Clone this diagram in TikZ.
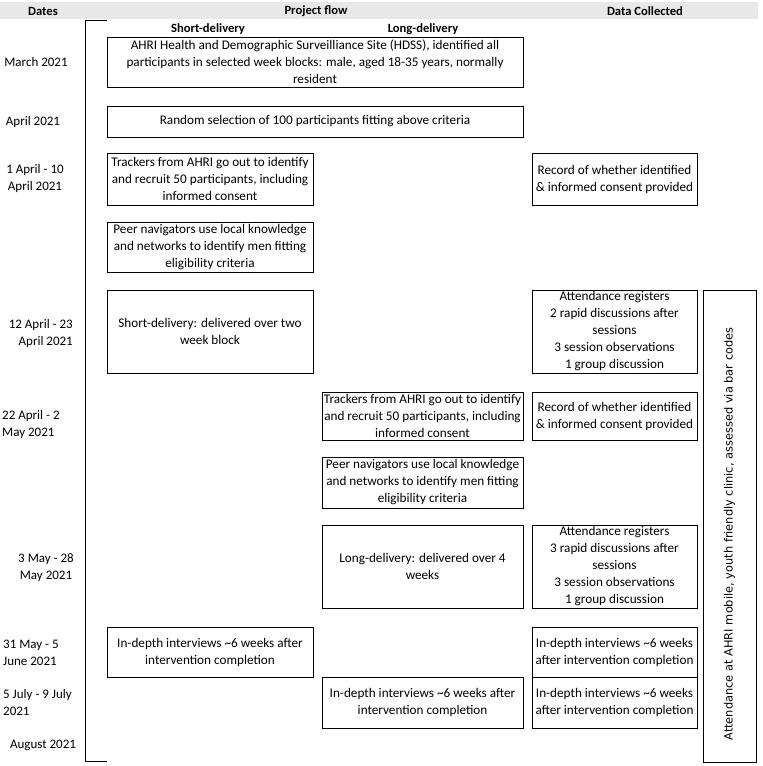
\documentclass[tikz,border=0pt]{standalone}
\usepackage{fontspec}
\setmainfont{Carlito}
\newfontfamily\vfont{DejaVu Sans}
\begin{document}
\begin{tikzpicture}[x=1pt,y=-1pt,
  txt/.style={font=\fontsize{13}{17}\selectfont, align=center, inner sep=0pt},
  hdr/.style={font=\fontsize{12.6}{17}\selectfont\bfseries, inner sep=0pt},
  datebox/.style={draw=black, line width=0.8pt, inner sep=0pt, align=center,
     font=\fontsize{13.2}{17}\selectfont},
]
\useasboundingbox (0,0) rectangle (763,766);
% header band
\fill[gray!18] (0,2) rectangle (758,19);
\node[hdr] (hd) at (43,11) {Dates};
\node[hdr] (hp) at (316,11) {Project flow};
\node[hdr] (hc) at (645,11) {Data Collected};
\node[hdr] (hs) at (208,29) {Short-delivery};
\node[hdr] (hl) at (423,29) {Long-delivery};
% bracket
\coordinate (bt) at (107,20);
\coordinate (bb) at (107,761);
\draw[line width=0.8pt] (bt) -- (85,20) -- (85,761) -- (bb);
% dates
\node[txt] (d1) at (36,62) {March 2021};
\node[txt] (d2) at (33,122) {April 2021};
\node[txt] (d3) at (35,179) {1 April - 10\\April 2021};
\node[txt, align=right, anchor=east] (d4) at (73,334) {12 April - 23\\April 2021};
\node[txt, align=left, anchor=west] (d5) at (2,425) {22 April - 2\\May 2021};
\node[txt] (d6) at (46,568) {3 May - 28\\May 2021};
\node[txt, align=left, anchor=west] (d7) at (3,653) {31 May - 5\\June 2021};
\node[txt, align=left, anchor=west] (d8) at (3,703) {5 July - 9 July\\2021};
\node[txt] (d9) at (43,745) {August 2021};
% project flow boxes
\node[datebox, minimum width=416, minimum height=50] (hdss) at (315,62)
  {AHRI Health and Demographic Surveilliance Site (HDSS), identified all\\participants in selected week blocks: male, aged 18-35 years, normally\\resident};
\node[datebox, minimum width=416, minimum height=31] (rand) at (315,121.5)
  {Random selection of 100 participants fitting above criteria};
\node[datebox, minimum width=206, minimum height=52] (trk1) at (210,179)
  {Trackers from AHRI go out to identify\\and recruit 50 participants, including\\informed consent};
\node[datebox, minimum width=206, minimum height=50] (peer1) at (210,247)
  {Peer navigators use local knowledge\\and networks to identify men fitting\\eligibility criteria};
\node[datebox, minimum width=206, minimum height=83] (short) at (210,331.5)
  {Short-delivery: delivered over two\\week block};
\node[datebox, minimum width=201, minimum height=48] (trk2) at (422.5,416)
  {Trackers from AHRI go out to identify\\and recruit 50 participants, including\\informed consent};
\node[datebox, minimum width=201, minimum height=51] (peer2) at (422.5,482.5)
  {Peer navigators use local knowledge\\and networks to identify men fitting\\eligibility criteria};
\node[datebox, minimum width=201, minimum height=83] (long) at (422.5,566.5)
  {Long-delivery: delivered over 4\\weeks};
\node[datebox, minimum width=206, minimum height=50] (idi1) at (210,652)
  {In-depth interviews \textasciitilde 6 weeks after\\intervention completion};
\node[datebox, minimum width=201, minimum height=51] (idi2) at (422.5,702.5)
  {In-depth interviews \textasciitilde 6 weeks after\\intervention completion};
% data collected
\node[datebox, minimum width=165, minimum height=52] (rec1) at (614.5,179)
  {Record of whether identified\\\& informed consent provided};
\node[datebox, minimum width=165, minimum height=83] (att1) at (614.5,331.5)
  {Attendance registers\\2 rapid discussions after\\sessions\\3 session observations\\1 group discussion};
\node[datebox, minimum width=165, minimum height=48] (rec2) at (614.5,416)
  {Record of whether identified\\\& informed consent provided};
\node[datebox, minimum width=165, minimum height=83] (att2) at (614.5,566.5)
  {Attendance registers\\3 rapid discussions after\\sessions\\3 session observations\\1 group discussion};
\node[datebox, minimum width=165, minimum height=50] (idd1) at (614.5,652)
  {In-depth interviews \textasciitilde 6 weeks\\after intervention completion};
\node[datebox, minimum width=165, minimum height=51] (idd2) at (614.5,702.5)
  {In-depth interviews \textasciitilde 6 weeks\\after intervention completion};
\node[datebox, minimum width=53, minimum height=472] (tall) at (729.5,526) {};
\node[inner sep=0pt, rotate=90, font=\vfont\fontsize{11.4}{13}\selectfont] (talltxt) at ([yshift=-8pt]tall.center)
  {Attendance at AHRI mobile, youth friendly clinic, assessed via bar codes};
\end{tikzpicture}
\end{document}
